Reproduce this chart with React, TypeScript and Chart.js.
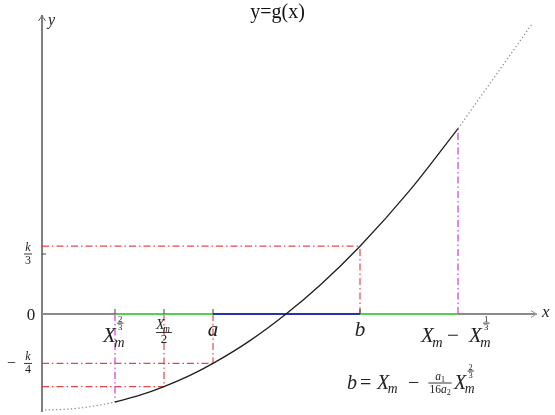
import React, { useEffect, useRef } from "react";
import { Chart, registerables } from "chart.js";

Chart.register(...registerables);

// curve y = g(x) (axis units)
const curveX = [0.03, 0.18, 0.38, 0.58, 0.73, 0.98, 1.22, 1.48, 1.71, 2.08, 2.44, 2.78, 3.18, 3.68, 4.16, 4.53, 4.9];
const curveY = [-0.48, -0.478, -0.47, -0.455, -0.44, -0.406, -0.363, -0.307, -0.247, -0.133, 0, 0.144, 0.339, 0.619, 0.927, 1.188, 1.45];

// marked points on the x axis: Xm^(2/3), Xm/2, a, b, Xm - Xm^(1/3)
const markNames = ["Xm^(2/3)", "Xm/2", "a", "b", "Xm-Xm^(1/3)"];
const markX = [0.73, 1.22, 1.71, 3.18, 4.16];

// y axis ticks
const yTickLabels = ["0", "k/3", "-k/4"];
const yTickValues = [0, 0.3, -0.247];

// horizontal dash-dot levels: k/3, -k/4, g(Xm/2), and where they stop
const levelY = [0.339, -0.247, -0.363];
const levelEndX = [3.18, 1.71, 1.22];

// axis extents
const axisXEnd = 4.93;
const axisYBottom = -0.49;
const axisYTop = 1.485;

const titleText = "y=g(x)";

const SERIF = "'Liberation Serif', 'DejaVu Serif', serif";
const INK = "#222";
const RED = "rgba(232,50,50,0.9)";
const MAGENTA = "#d438d4";
const GREEN = "#4fd24f";
const BLUE = "#2a2fb0";
const GREY = "#8a8a8a";

type Item = { s: string; size: number; it?: boolean; dy?: number; dx?: number };

function fnt(size: number, it?: boolean) {
  return `${it ? "italic " : ""}${size}px ${SERIF}`;
}
function runWidth(ctx: CanvasRenderingContext2D, items: Item[]) {
  let w = 0;
  for (const i of items) {
    ctx.font = fnt(i.size, i.it);
    w += (i.dx || 0) + ctx.measureText(i.s).width;
  }
  return w;
}
function drawRun(ctx: CanvasRenderingContext2D, items: Item[], x: number, base: number) {
  ctx.textAlign = "left";
  ctx.textBaseline = "alphabetic";
  let cx = x;
  for (const i of items) {
    cx += i.dx || 0;
    ctx.font = fnt(i.size, i.it);
    ctx.fillText(i.s, cx, base + (i.dy || 0));
    cx += ctx.measureText(i.s).width;
  }
  return cx;
}
function drawFrac(
  ctx: CanvasRenderingContext2D,
  num: Item[],
  den: Item[],
  cx: number,
  mid: number,
  up: number,
  down: number
) {
  const wn = runWidth(ctx, num);
  const wd = runWidth(ctx, den);
  const w = Math.max(wn, wd) + 2;
  drawRun(ctx, num, cx - wn / 2, mid - up);
  drawRun(ctx, den, cx - wd / 2, mid + down);
  ctx.fillRect(cx - w / 2, mid - 0.45, w, 0.9);
  return w;
}
function drawXm(
  ctx: CanvasRenderingContext2D,
  x: number,
  base: number,
  size: number,
  sup?: [string, string]
) {
  ctx.textAlign = "left";
  ctx.textBaseline = "alphabetic";
  ctx.font = fnt(size, true);
  ctx.fillText("X", x, base);
  const wx = ctx.measureText("X").width;
  const ms = size * 0.68;
  ctx.font = fnt(ms, true);
  ctx.fillText("m", x + wx - 1.5, base + size * 0.22);
  let end = x + wx - 1.5 + ctx.measureText("m").width;
  if (sup) {
    const fs = size * 0.42;
    const w = drawFrac(ctx, [{ s: sup[0], size: fs }], [{ s: sup[1], size: fs }], x + wx + 4.5, base - size * 0.9, 1.3, fs * 0.78);
    end = Math.max(end, x + wx + 4.5 + w / 2);
  }
  return end;
}

const seg = (x0: number, y0: number, x1: number, y1: number) => [
  { x: x0, y: y0 },
  { x: x1, y: y1 },
];

export default function App() {
  const ref = useRef<HTMLCanvasElement | null>(null);

  useEffect(() => {
    const canvas = ref.current;
    if (!canvas) return;
    const pts = curveX.map((x, i) => ({ x, y: curveY[i] }));
    const gAt = (x: number) => curveY[curveX.indexOf(x)];
    const left = pts.filter((p) => p.x <= markX[0]);
    const solid = pts.filter((p) => p.x >= markX[0] && p.x <= markX[4]);
    const right = pts.filter((p) => p.x >= markX[4]);

    const lineDs = (data: any[], color: string, width: number, dash: number[] = [], extra: any = {}) => ({
      data,
      showLine: true,
      borderColor: color,
      borderWidth: width,
      borderDash: dash,
      pointRadius: 0,
      fill: false,
      ...extra,
    });
    const curveOpts = { cubicInterpolationMode: "monotone" };
    const dashDot = [7, 3, 1.5, 3];

    const datasets: any[] = [
      lineDs(solid, "#1e1e1e", 1.3, [], curveOpts),
      lineDs(left, "#888", 1.2, [1.3, 2.4], curveOpts),
      lineDs(right, "#888", 1.2, [1.3, 2.4], curveOpts),
      // coloured pieces of the x axis
      lineDs(seg(markX[0], 0, markX[2], 0), GREEN, 2.2),
      lineDs(seg(markX[2], 0, markX[3], 0), BLUE, 2),
      lineDs(seg(markX[3], 0, markX[4], 0), GREEN, 2.2),
      // vertical dash-dot lines
      lineDs(seg(markX[0], 0, markX[0], gAt(markX[0])), MAGENTA, 1.2, dashDot),
      lineDs(seg(markX[1], 0, markX[1], gAt(markX[1])), RED, 1.2, dashDot),
      lineDs(seg(markX[2], 0, markX[2], gAt(markX[2])), RED, 1.2, dashDot),
      lineDs(seg(markX[3], 0, markX[3], gAt(markX[3])), RED, 1.2, dashDot),
      lineDs(seg(markX[4], 0, markX[4], gAt(markX[4])), MAGENTA, 1.2, dashDot),
      // horizontal dash-dot lines
      ...levelY.map((ly, i) => lineDs(seg(0, ly, levelEndX[i], ly), RED, 1.2, dashDot)),
      // grey axes
      lineDs(seg(0, 0, markX[0], 0), GREY, 2),
      lineDs(seg(markX[4], 0, axisXEnd, 0), GREY, 2),
      lineDs(seg(0, axisYBottom, 0, axisYTop), "#555", 1.5),
    ];

    const overlay = {
      id: "mathOverlay",
      afterDatasetsDraw(chart: any) {
        const ctx: CanvasRenderingContext2D = chart.ctx;
        const xs = chart.scales.x;
        const ys = chart.scales.y;
        const px = (v: number) => xs.getPixelForValue(v);
        const py = (v: number) => ys.getPixelForValue(v);
        ctx.save();
        ctx.fillStyle = INK;
        ctx.strokeStyle = "#444";
        ctx.lineWidth = 1;

        // arrow heads
        const x0 = px(0);
        const y0 = py(0);
        const xt = px(axisXEnd) + 2;
        ctx.strokeStyle = GREY;
        ctx.beginPath();
        ctx.moveTo(xt - 6, y0 - 3.5);
        ctx.quadraticCurveTo(xt - 2, y0 - 0.5, xt, y0);
        ctx.quadraticCurveTo(xt - 2, y0 + 0.5, xt - 6, y0 + 3.5);
        ctx.stroke();
        const yt = py(axisYTop) - 2;
        ctx.strokeStyle = "#555";
        ctx.beginPath();
        ctx.moveTo(x0 - 3.5, yt + 6);
        ctx.quadraticCurveTo(x0 - 0.5, yt + 2, x0, yt);
        ctx.quadraticCurveTo(x0 + 0.5, yt + 2, x0 + 3.5, yt + 6);
        ctx.stroke();

        // ticks on x axis
        ctx.strokeStyle = "#444";
        for (const m of markX.slice(0, 4)) {
          ctx.beginPath();
          ctx.moveTo(px(m), y0 - 5);
          ctx.lineTo(px(m), y0);
          ctx.stroke();
        }
        // tick on y axis (k/3)
        ctx.beginPath();
        ctx.moveTo(x0, py(yTickValues[1]));
        ctx.lineTo(x0 + 4, py(yTickValues[1]));
        ctx.stroke();

        // title
        ctx.fillStyle = "#111";
        ctx.font = `20px ${SERIF}`;
        ctx.textAlign = "center";
        ctx.textBaseline = "alphabetic";
        ctx.fillText(titleText, chart.width / 2, 18);

        // axis names
        ctx.fillStyle = INK;
        drawRun(ctx, [{ s: "y", size: 16, it: true }], x0 + 6, yt + 10);
        drawRun(ctx, [{ s: "x", size: 17, it: true }], xt + 5, y0 + 3);

        // y tick labels
        ctx.font = `17px ${SERIF}`;
        ctx.textAlign = "center";
        ctx.fillText(yTickLabels[0], x0 - 11, y0 + 6);
        const k3 = py(yTickValues[1]);
        drawFrac(ctx, [{ s: "k", size: 12, it: true }], [{ s: "3", size: 12 }], x0 - 14, k3, 3, 10);
        const k4 = py(yTickValues[2]);
        drawRun(ctx, [{ s: "\u2212", size: 16 }], x0 - 35, k4 + 4.5);
        drawFrac(ctx, [{ s: "k", size: 12, it: true }], [{ s: "4", size: 12 }], x0 - 14, k4, 3, 10);

        // x mark labels
        const base = y0 + 28;
        drawXm(ctx, px(markX[0]) - 12, base, 21, ["2", "3"]);
        {
          const cx = px(markX[1]);
          ctx.font = fnt(14, true);
          const wX = ctx.measureText("X").width;
          ctx.font = fnt(9.5, true);
          const wm = ctx.measureText("m").width;
          const w = wX - 1.5 + wm;
          drawXm(ctx, cx - w / 2 - 1, y0 + 15, 14);
          ctx.fillRect(cx - w / 2 - 1, y0 + 18, w + 2, 0.9);
          ctx.font = `13px ${SERIF}`;
          ctx.textAlign = "center";
          ctx.fillText("2", cx, y0 + 28.5);
        }
        ctx.font = fnt(21, true);
        ctx.textAlign = "center";
        ctx.fillText("a", px(markX[2]), y0 + 22);
        ctx.fillText("b", px(markX[3]), y0 + 22);

        // Xm - Xm^(1/3)
        const lx = px(markX[4]) - 37;
        drawXm(ctx, lx, base, 21);
        drawRun(ctx, [{ s: "\u2212", size: 21 }], lx + 26, base);
        drawXm(ctx, lx + 48, base, 21, ["1", "3"]);

        // b = Xm - a1/(16 a2) Xm^(2/3)
        const fb = y0 + 75;
        const fx = px(markX[3]) - 13;
        drawRun(ctx, [{ s: "b", size: 20, it: true }], fx, fb);
        drawRun(ctx, [{ s: "=", size: 20 }], fx + 13, fb);
        drawXm(ctx, fx + 30, fb, 20);
        drawRun(ctx, [{ s: "\u2212", size: 20 }], fx + 61, fb);
        drawFrac(
          ctx,
          [{ s: "a", size: 11.5, it: true }, { s: "1", size: 8, dy: 2 }],
          [{ s: "16", size: 11.5 }, { s: "a", size: 11.5, it: true }, { s: "2", size: 8, dy: 2 }],
          fx + 93,
          fb - 6,
          3,
          9.5
        );
        drawXm(ctx, fx + 107, fb, 20, ["2", "3"]);

        ctx.restore();
      },
    };

    const chart = new Chart(canvas, {
      type: "scatter",
      data: { datasets },
      options: {
        animation: false,
        responsive: false,
        events: [],
        layout: { padding: 0 },
        plugins: { legend: { display: false }, tooltip: { enabled: false }, title: { display: false } },
        scales: {
          x: { type: "linear", min: -0.42, max: 5.13, display: false },
          y: { type: "linear", min: -0.505, max: 1.57, display: false },
        },
      },
      plugins: [overlay],
    } as any);
    return () => chart.destroy();
  }, []);

  return (
    <div style={{ position: "fixed", left: 0, top: 0, width: 555, height: 415, background: "#fff" }}>
      <canvas ref={ref} width={555} height={415} style={{ display: "block" }} />
    </div>
  );
}
